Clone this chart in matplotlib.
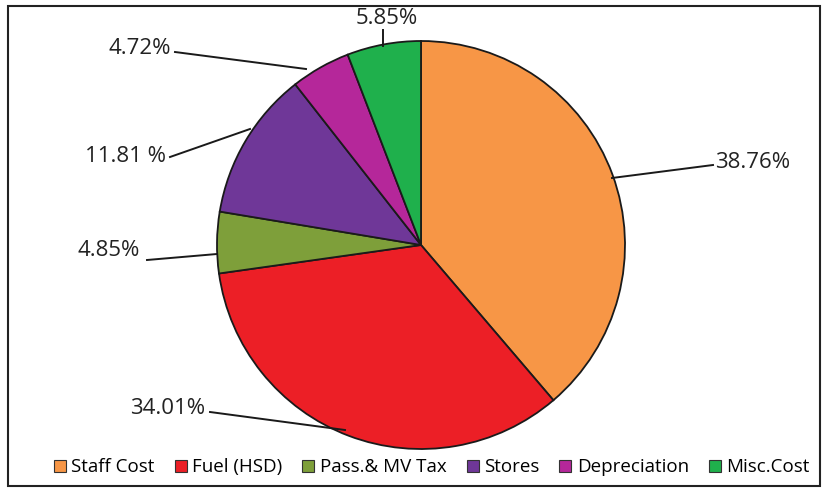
import matplotlib
matplotlib.use("Agg")
import matplotlib.pyplot as plt
from matplotlib.patches import Rectangle
from matplotlib.lines import Line2D

labels = ["Staff Cost", "Fuel (HSD)", "Pass.& MV Tax", "Stores", "Depreciation", "Misc.Cost"]
values = [38.76, 34.01, 4.85, 11.81, 4.72, 5.85]
colors = ["#F79646", "#EC1F26", "#7E9F3A", "#6F3798", "#B5279A", "#1FB04C"]
pct_text = ["38.76%", "34.01%", "4.85%", "11.81 %", "4.72%", "5.85%"]

plt.rcParams['font.family'] = ['Open Sans', 'DejaVu Sans']

fig = plt.figure(figsize=(8.27, 4.92), dpi=100)
ax = fig.add_axes([0, 0, 1, 1])
ax.axis("off")

# frame around chart
ax.add_patch(Rectangle((8, 6), 812, 480, fill=False, edgecolor="#222222", lw=1.5))

cx, cy, r = 421, 247, 204
wedges, _ = ax.pie(values, colors=colors, startangle=90, counterclock=False,
                   center=(cx, cy), radius=r,
                   wedgeprops=dict(edgecolor="#1a1a1a", linewidth=1.3))
ax.set_xlim(0, 827)
ax.set_ylim(0, 492)
ax.set_aspect("equal")

# text anchor and leader line points (y measured from bottom)
lab = [
    (715, 330, "left", [(612, 314), (713, 327)]),
    (205, 84, "right", [(210, 80), (345, 62)]),
    (140, 241, "right", [(147, 232), (217, 238)]),
    (166, 335, "right", [(170, 335), (250, 363)]),
    (171, 444, "right", [(175, 440), (306, 423)]),
    (387, 474, "center", [(383, 462), (383, 446)]),
]
for (tx, ty, ha, pts), t in zip(lab, pct_text):
    ax.text(tx, ty, t, ha=ha, va="center", fontsize=16, color="#222222")
    ax.plot([p[0] for p in pts], [p[1] for p in pts], color="#1a1a1a", lw=1.4)

handles = [Line2D([], [], marker="s", linestyle="none", markersize=9,
                  markerfacecolor=c, markeredgecolor="#333333", markeredgewidth=0.8)
           for c in colors]
fig.legend(handles, labels, loc="center", bbox_to_anchor=(0.52, 0.05),
           ncol=6, frameon=False, fontsize=13.5, handletextpad=0.1,
           columnspacing=0.9, handlelength=1.0)

fig.savefig("out.png", dpi=100)
